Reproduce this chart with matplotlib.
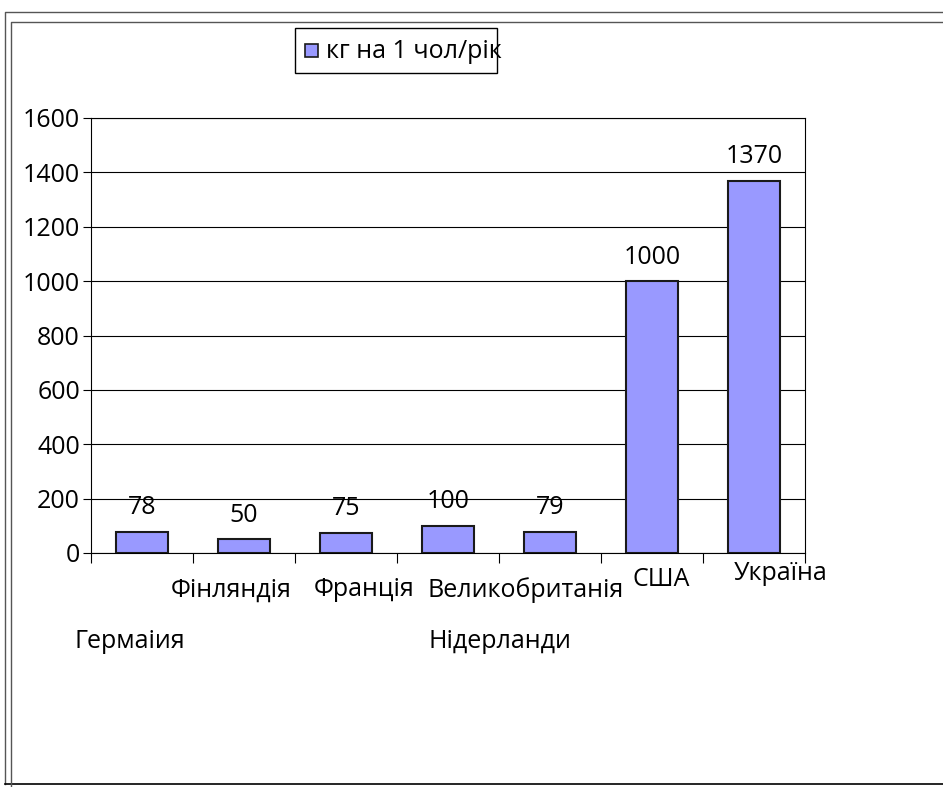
import matplotlib
matplotlib.use("Agg")
import matplotlib.pyplot as plt
from matplotlib.lines import Line2D
from matplotlib.patches import Rectangle

plt.rcParams["font.family"] = ["Open Sans", "DejaVu Sans"]

countries = ["Гермаіия", "Фінляндія", "Франція", "Нідерланди", "Великобританія", "США", "Україна"]
values = [78, 50, 75, 100, 79, 1000, 1370]
series_name = "кг на 1 чол/рік"
y_ticks = [0, 200, 400, 600, 800, 1000, 1200, 1400, 1600]

# label placement quirks of the original (pixel offsets from the category centre / axis bottom)
label_dx = [-12, -13, 18, 52, -24, 9, 27]
label_dy = [-89, -37, -37, -89, -37, -27, -20]

W, H = 943, 787
FS = 18
fig = plt.figure(figsize=(W / 100, H / 100), dpi=100)


def fx(px):
    return px / W


def fy(py):
    return 1 - py / H


ax = fig.add_axes([fx(91), fy(553), fx(805) - fx(91), fy(118) - fy(553)])

bar_color = "#9999FF"
x = list(range(len(values)))
ax.bar(x, values, width=0.51, color=bar_color, edgecolor="#1a1a1a", linewidth=1.5, zorder=3)

ax.set_xlim(-0.5, len(values) - 0.5)
ax.set_ylim(0, 1600)
ax.set_yticks(y_ticks)
ax.set_yticklabels([str(t) for t in y_ticks], fontsize=FS)
ax.yaxis.grid(True, color="black", linewidth=0.8)
ax.set_axisbelow(True)

ax.set_xticks([])
ax.set_xticks([i - 0.5 for i in range(len(values) + 1)], minor=True)
ax.tick_params(axis="x", which="minor", length=7, width=0.8, direction="out")
ax.tick_params(axis="y", length=6, width=0.8, pad=2)
for s in ax.spines.values():
    s.set_linewidth(0.8)
    s.set_color("black")

for i, v in enumerate(values):
    ax.annotate(str(v), xy=(i, v), xytext=(0, 24), textcoords="offset pixels",
                ha="center", va="center", fontsize=FS)

for i, name in enumerate(countries):
    ax.annotate(name, xy=(i, 0), xycoords=("data", "axes fraction"),
                xytext=(label_dx[i], label_dy[i]), textcoords="offset pixels",
                ha="center", va="center", fontsize=FS, annotation_clip=False)

# legend drawn by hand: the text runs past the frame as in the original
fig.add_artist(Rectangle((fx(295), fy(73)), fx(497) - fx(295), fy(28) - fy(73),
                         transform=fig.transFigure, facecolor="white", edgecolor="black", linewidth=1))
fig.add_artist(Rectangle((fx(305), fy(57)), fx(318) - fx(305), fy(44) - fy(57),
                         transform=fig.transFigure, facecolor=bar_color, edgecolor="#1a1a1a", linewidth=1.2))
fig.text(fx(326), fy(52), series_name, ha="left", va="center", fontsize=FS)

# outer chart frames
frame = dict(color="#555555", linewidth=1, transform=fig.transFigure)
fig.add_artist(Line2D([fx(5), fx(5), 1], [fy(784), fy(12), fy(12)], **frame))
fig.add_artist(Line2D([fx(5), 1], [fy(784), fy(784)], color="black", linewidth=1.2, transform=fig.transFigure))
fig.add_artist(Line2D([fx(11), fx(11), 1], [0, fy(22), fy(22)], **frame))

fig.savefig("out.png", dpi=100)
